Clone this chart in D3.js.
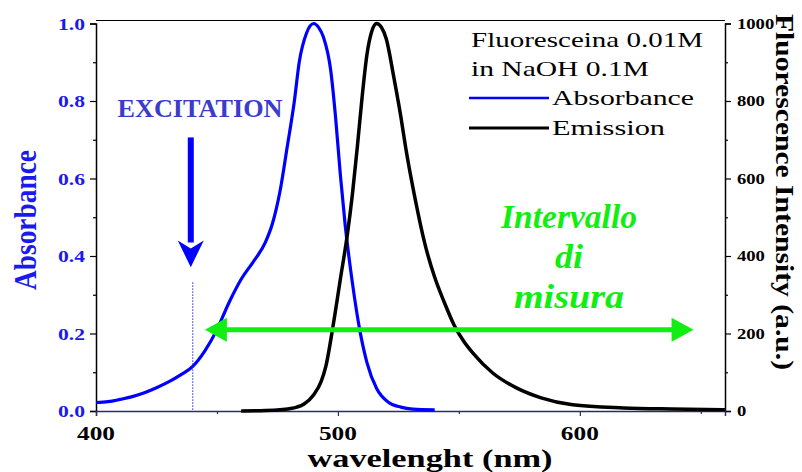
<!DOCTYPE html>
<html>
<head>
<meta charset="utf-8">
<script src="https://cdn.jsdelivr.net/npm/d3@7"></script>
<style>
  body { margin: 0; background: #fff; }
  text { font-family: "Liberation Serif", "Times New Roman", Times, serif; }
</style>
</head>
<body>
<div id="chart"></div>
<script>
// absorbance spectrum (left axis)
const absWl  = [400,405,410,415,420,425,430,435,440,445,450,455,460,465,470,473,476,479,482,484,487,490,492,494,497,499,501,503,506,509,512,516,521,526,531,540];
const absVal = [0.022,0.024,0.03,0.037,0.047,0.06,0.075,0.093,0.115,0.155,0.21,0.28,0.34,0.385,0.435,0.485,0.565,0.68,0.8,0.9,0.975,1.0,0.99,0.965,0.88,0.76,0.61,0.48,0.33,0.21,0.125,0.058,0.022,0.01,0.005,0.003];

// emission spectrum (right axis)
const emWl  = [460,470,476,480,483,486,490,493,495,498,501,504,506,508,510,512,514,516,518,520,523,526,528,532,536,540,544,548,552,556,564,574,584,597,618,638,660];
const emVal = [0,1,3,6,10,18,42,75,115,220,340,460,560,680,810,920,980,1000,990,960,865,760,680,545,430,345,280,222,180,148,98,59,34,16,8,5,3];

const absTicks = [0, 0.2, 0.4, 0.6, 0.8, 1.0];
const emTicks  = [0, 200, 400, 600, 800, 1000];
const wlTicks  = [400, 500, 600];

const legendTitle = ["Fluoresceina 0.01M", "in NaOH 0.1M"];
const seriesNames = ["Absorbance", "Emission"];
const rangeLines  = ["Intervallo", "di", "misura"];

// annotations in data units
const excitationWl = 440;
const rangeFrom = 445, rangeTo = 647, rangeLevel = 0.21;

const W = 802, H = 472;
const x  = d3.scaleLinear().domain([400, 660]).range([96, 725]);
const yA = d3.scaleLinear().domain([0, 1]).range([411, 23.5]);
const yE = d3.scaleLinear().domain([0, 1000]).range([411, 23.5]);

const svg = d3.select("#chart").append("svg")
    .attr("width", W).attr("height", H);

// frame
svg.append("line").attr("x1", x(400)).attr("x2", x(660)).attr("y1", 20.5).attr("y2", 20.5)
    .attr("stroke", "#000").attr("stroke-width", 1);

// axes
const axL = d3.axisLeft(yA).tickValues(absTicks).tickSize(6).tickFormat("");
const axLm = d3.axisLeft(yA).tickValues(d3.range(0.1, 1, 0.2)).tickSize(3).tickFormat("");
const axR = d3.axisRight(yE).tickValues(emTicks).tickSize(6).tickFormat("");
const axRm = d3.axisRight(yE).tickValues(d3.range(100, 1000, 200)).tickSize(3).tickFormat("");
const axB = d3.axisBottom(x).tickValues(wlTicks).tickSize(5).tickFormat("");
const axBm = d3.axisBottom(x).tickValues([450, 550, 650]).tickSize(3).tickFormat("");

function drawAxis(ax, tx, ty, color) {
  const g = svg.append("g").attr("transform", `translate(${tx},${ty})`).call(ax);
  g.select(".domain").attr("stroke", color).attr("stroke-width", 1.5);
  g.selectAll(".tick line").attr("stroke", color).attr("stroke-width", 1.2);
  return g;
}
drawAxis(axL, x(400), 0, "#000");
drawAxis(axLm, x(400), 0, "#000").select(".domain").remove();
drawAxis(axR, x(660), 0, "#000");
drawAxis(axRm, x(660), 0, "#000").select(".domain").remove();
drawAxis(axB, 0, yA(0), "#2a2a70");
drawAxis(axBm, 0, yA(0), "#2a2a70").select(".domain").remove();

// helper: text stretched to the measured width
function txt(s, px, py, size, len, opt = {}) {
  const t = svg.append("text").attr("x", px).attr("y", py)
      .attr("font-size", size)
      .attr("font-weight", opt.weight || "bold")
      .attr("font-style", opt.style || "normal")
      .attr("fill", opt.fill || "#000")
      .attr("text-anchor", opt.anchor || "start")
      .text(s);
  if (len) t.attr("textLength", len).attr("lengthAdjust", "spacingAndGlyphs");
  if (opt.rotate) t.attr("transform", `rotate(${opt.rotate},${px},${py})`);
  return t;
}

// tick labels
absTicks.forEach(v => txt(d3.format(".1f")(v), 85, yA(v) + 6, 17, 27, {fill: "#1a1aee", anchor: "end"}));
emTicks.forEach(v => txt(String(v), 737, yE(v) + 5, 14, String(v).length * 9.3));
wlTicks.forEach(v => txt(String(v), x(v), 440, 19, 38, {anchor: "middle"}));

// axis titles
txt("wavelenght (nm)", 430, 467, 25, 245, {anchor: "middle"});
txt("Absorbance", 36, 220, 32, 140, {anchor: "middle", fill: "#1a1aee", rotate: -90});
txt("Fluorescence Intensity (a.u.)", 776, 192, 26, 356, {anchor: "middle", rotate: 90});

// curves
const lineA = d3.line().x(d => x(d[0])).y(d => yA(d[1])).curve(d3.curveMonotoneX);
const lineE = d3.line().x(d => x(d[0])).y(d => yE(d[1])).curve(d3.curveMonotoneX);

svg.append("path").datum(d3.zip(absWl, absVal))
    .attr("d", lineA).attr("fill", "none").attr("stroke", "#0000ff").attr("stroke-width", 3.2);
svg.append("path").datum(d3.zip(emWl, emVal))
    .attr("d", lineE).attr("fill", "none").attr("stroke", "#000").attr("stroke-width", 3.5);

// excitation marker
svg.append("line").attr("x1", x(excitationWl)).attr("x2", x(excitationWl))
    .attr("y1", yA(0.332)).attr("y2", yA(0))
    .attr("stroke", "#2222dd").attr("stroke-width", 1).attr("stroke-dasharray", "1.5,1.5");

const ex = x(excitationWl) - 2;
svg.append("line").attr("x1", ex).attr("x2", ex).attr("y1", yA(0.706)).attr("y2", yA(0.44) + 2)
    .attr("stroke", "#0000ff").attr("stroke-width", 6);
svg.append("path")
    .attr("d", `M${ex - 13},${yA(0.44)} L${ex},${yA(0.44) + 8} L${ex + 13},${yA(0.44)} L${ex},${yA(0.371)} Z`)
    .attr("fill", "#0000ff");
txt("EXCITATION", 200, 117, 25, 165, {anchor: "middle", fill: "#3b3bcc"});

// measurement range arrow
const green = "#11ee11";
const gy = yA(rangeLevel);
svg.append("line").attr("x1", x(rangeFrom) + 18).attr("x2", x(rangeTo) - 18)
    .attr("y1", gy).attr("y2", gy).attr("stroke", green).attr("stroke-width", 5);
svg.append("path")
    .attr("d", `M${x(rangeFrom)},${gy} L${x(rangeFrom) + 22},${gy - 12} L${x(rangeFrom) + 22},${gy + 12} Z`)
    .attr("fill", green);
svg.append("path")
    .attr("d", `M${x(rangeTo)},${gy} L${x(rangeTo) - 22},${gy - 12} L${x(rangeTo) - 22},${gy + 12} Z`)
    .attr("fill", green);
const rangeW = [136, 28, 110];
rangeLines.forEach((s, i) => txt(s, 569, 228 + i * 40, 33, rangeW[i], {anchor: "middle", fill: green, style: "italic"}));

// legend
txt(legendTitle[0], 471, 47, 22, 232, {weight: "normal"});
txt(legendTitle[1], 471, 76, 22, 178, {weight: "normal"});
const legColors = ["#0000ff", "#000"];
const legWidths = [142, 113];
seriesNames.forEach((s, i) => {
  const ly = 98 + i * 30;
  svg.append("line").attr("x1", 469).attr("x2", 549).attr("y1", ly).attr("y2", ly)
      .attr("stroke", legColors[i]).attr("stroke-width", i ? 3.2 : 2.5);
  txt(s, 552, ly + 7, 22, legWidths[i], {weight: "normal"});
});
</script>
</body>
</html>
